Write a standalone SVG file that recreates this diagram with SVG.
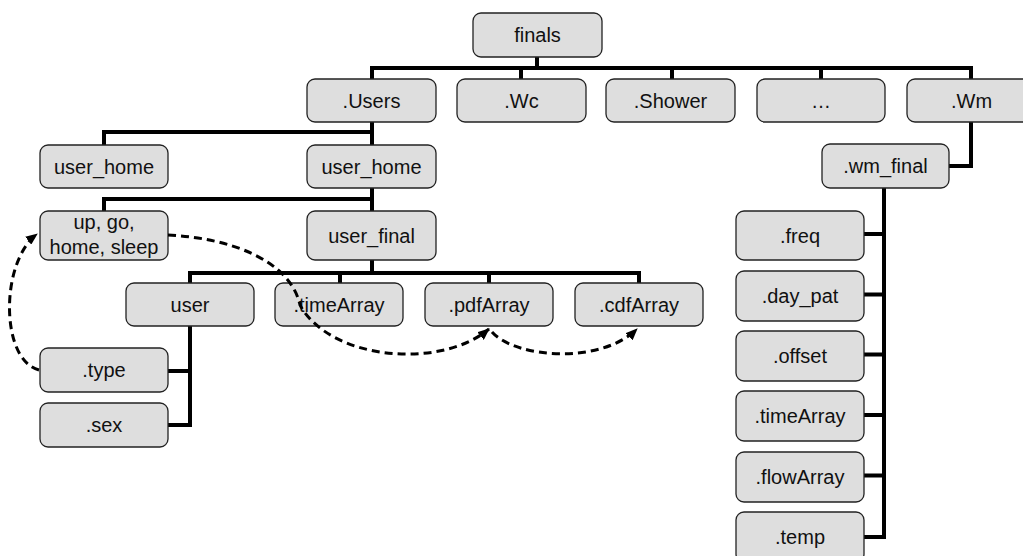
<svg xmlns="http://www.w3.org/2000/svg" width="1023" height="556" viewBox="0 0 1023 556">
<style>
  .box { fill: #dedede; stroke: #222; stroke-width: 1.3; }
  .lbl { font-family: "Liberation Sans", Arial, sans-serif; font-size: 20px; fill: #111; text-anchor: middle; }
  .tree { fill: none; stroke: #000; stroke-width: 4; stroke-linejoin: miter; stroke-linecap: square; }
  .dash { fill: none; stroke: #000; stroke-width: 3; stroke-dasharray: 8 5; }
</style>
<defs>
  <marker id="arr" viewBox="0 0 12 10" refX="11" refY="5" markerWidth="12" markerHeight="10" markerUnits="userSpaceOnUse" orient="auto">
    <path d="M0,0 L12,5 L0,10 Z" fill="#000"/>
  </marker>
</defs>
<rect width="1023" height="556" fill="#fff"/>

<g id="tree-connectors">
  <path class="tree" d="M537,57 V68 M372,68 H971 M372,68 V79 M521,68 V79 M672,68 V79 M821,68 V79 M971,68 V79"/>
  <path class="tree" d="M372,122 V132 H104 V145 M372,132 V145"/>
  <path class="tree" d="M372,188 V199 H104 V211 M372,199 V211"/>
  <path class="tree" d="M372,260 V273 M190,273 H639 M190,273 V283 M340,273 V283 M489,273 V283 M639,273 V283"/>
  <path class="tree" d="M190,326 V425 H168 M190,371 H168"/>
  <path class="tree" d="M971,122 V166 H949"/>
  <path class="tree" d="M884,188 V537 M884,234 H864 M884,294.5 H864 M884,354.5 H864 M884,415 H864 M884,475.5 H864 M884,537 H864"/>
</g>

<g id="n-finals"><rect class="box" x="473" y="13" width="129" height="44" rx="8"/><text class="lbl" x="537.5" y="42">finals</text></g>
<g id="n-users"><rect class="box" x="307" y="79" width="129" height="43" rx="8"/><text class="lbl" x="371.5" y="108">.Users</text></g>
<g id="n-wc"><rect class="box" x="457" y="79" width="129" height="43" rx="8"/><text class="lbl" x="521.5" y="108">.Wc</text></g>
<g id="n-shower"><rect class="box" x="606" y="79" width="129" height="43" rx="8"/><text class="lbl" x="670.5" y="108">.Shower</text></g>
<g id="n-more"><rect class="box" x="757" y="79" width="128" height="43" rx="8"/><text class="lbl" x="821" y="108">…</text></g>
<g id="n-wm"><rect class="box" x="907" y="79" width="129" height="43" rx="8"/><text class="lbl" x="971.5" y="108">.Wm</text></g>

<g id="n-user_home_l"><rect class="box" x="40" y="145" width="128" height="43" rx="8"/><text class="lbl" x="104" y="174">user_home</text></g>
<g id="n-user_home_r"><rect class="box" x="307" y="145" width="129" height="43" rx="8"/><text class="lbl" x="371.5" y="174">user_home</text></g>
<g id="n-upgo"><rect class="box" x="40" y="211" width="128" height="49" rx="8"/><text class="lbl" x="104" y="229">up, go,</text><text class="lbl" x="104" y="254">home, sleep</text></g>
<g id="n-user_final"><rect class="box" x="307" y="211" width="129" height="49" rx="8"/><text class="lbl" x="371.5" y="243">user_final</text></g>

<g id="n-user"><rect class="box" x="126" y="283" width="128" height="43" rx="8"/><text class="lbl" x="190" y="312">user</text></g>
<g id="n-timeArray"><rect class="box" x="275" y="283" width="128" height="43" rx="8"/><text class="lbl" x="339" y="312">.timeArray</text></g>
<g id="n-pdfArray"><rect class="box" x="425" y="283" width="128" height="43" rx="8"/><text class="lbl" x="489" y="312">.pdfArray</text></g>
<g id="n-cdfArray"><rect class="box" x="575" y="283" width="128" height="43" rx="8"/><text class="lbl" x="639" y="312">.cdfArray</text></g>

<g id="n-type"><rect class="box" x="40" y="348" width="128" height="44" rx="8"/><text class="lbl" x="104" y="377">.type</text></g>
<g id="n-sex"><rect class="box" x="40" y="403" width="128" height="44" rx="8"/><text class="lbl" x="104" y="432">.sex</text></g>

<g id="n-wm_final"><rect class="box" x="822" y="144" width="127" height="44" rx="8"/><text class="lbl" x="885.5" y="173">.wm_final</text></g>
<g id="n-freq"><rect class="box" x="736" y="211" width="128" height="49" rx="8"/><text class="lbl" x="800" y="243">.freq</text></g>
<g id="n-day_pat"><rect class="box" x="736" y="271" width="128" height="50" rx="8"/><text class="lbl" x="800" y="303">.day_pat</text></g>
<g id="n-offset"><rect class="box" x="736" y="331" width="128" height="50" rx="8"/><text class="lbl" x="800" y="363">.offset</text></g>
<g id="n-wm_timeArray"><rect class="box" x="736" y="391" width="128" height="50" rx="8"/><text class="lbl" x="800" y="423">.timeArray</text></g>
<g id="n-flowArray"><rect class="box" x="736" y="452" width="128" height="50" rx="8"/><text class="lbl" x="800" y="484">.flowArray</text></g>
<g id="n-temp"><rect class="box" x="736" y="512" width="128" height="50" rx="8"/><text class="lbl" x="800" y="544">.temp</text></g>

<g id="dashed-connectors">
  <path class="dash" d="M39,370 C0,360 0,262 37,234" marker-end="url(#arr)"/>
  <path class="dash" d="M168,235 C230,238 290,260 300,305 C330,360 440,370 489,329" marker-end="url(#arr)"/>
  <path class="dash" d="M492,332 C515,358 600,365 637,329" marker-end="url(#arr)"/>
</g>
</svg>
